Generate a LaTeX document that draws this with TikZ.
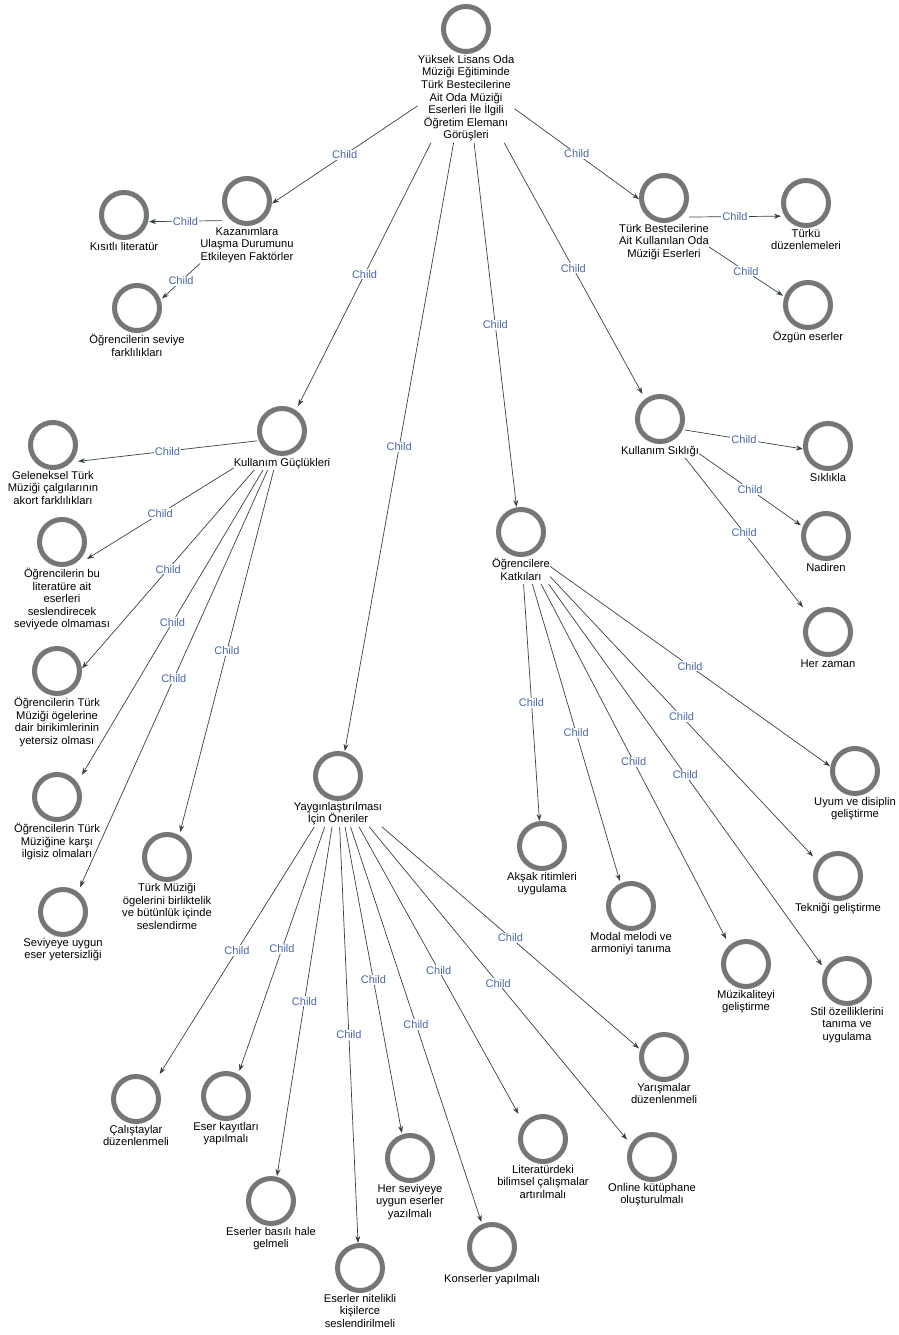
\documentclass[tikz,border=0pt]{standalone}
\usepackage{fontspec}
\setmainfont{Liberation Sans}
\usetikzlibrary{arrows.meta,fit,intersections}
\definecolor{ringgray}{RGB}{118,118,118}
\definecolor{edgecol}{RGB}{55,68,68}
\definecolor{lblcol}{RGB}{75,105,165}
% element: circle + caption + enclosing box
\newcommand\elem[4]{%
  \node[ring] (#1-c) at (#2,#3) {};
  \node[txt] (#1-t) at (#2,#3+26) {#4};
  \node[fit=(#1-c)(#1-t), inner sep=0pt, outer sep=0pt] (#1) {};
}
% connector: leaves the given source rectangle, ends on the child's circle square,
% aimed from the parent box centre to the child box centre
\newcommand\linkgen[4]{%
  \path[name path=lnk] (#3.center) -- (#4.center);
  \path[name path=src] (#1) rectangle (#2);
  \path[name path=dst] (#4-c.west |- #4-c.north) rectangle (#4-c.east |- #4-c.south);
  \path[name intersections={of=lnk and src, by={#3-#4-s}}];
  \path[name intersections={of=lnk and dst, sort by=lnk, by={#3-#4-e}}];
  \draw[edge] (#3-#4-s) -- (#3-#4-e) node[lbl]{Child};
}
\newcommand\link[2]{\linkgen{#1.north west}{#1.south east}{#1}{#2}}
\newcommand\linkc[2]{\linkgen{#1-c.west |- #1-c.north}{#1-c.east |- #1-c.south}{#1}{#2}}
\begin{document}
\begin{tikzpicture}[x=1pt,y=-1pt,
  ring/.style={circle, draw=ringgray, line width=5pt, minimum size=45pt, inner sep=0pt},
  txt/.style={font=\fontsize{11.2}{12.6}\selectfont, align=center, inner sep=0pt, anchor=north, execute at begin node=\strut},
  edge/.style={draw=edgecol, line width=0.7pt, -{Stealth[length=7pt,width=5pt]}},
  lbl/.style={midway, fill=white, inner sep=1pt, text=lblcol, font=\fontsize{11}{12}\selectfont}]
\useasboundingbox[fill=white] (0,0) rectangle (898,1335);

\elem{root}{466}{29}{Yüksek Lisans Oda\\Müziği Eğitiminde\\Türk Bestecilerine\\Ait Oda Müziği\\Eserleri İle İlgili\\Öğretim Elemanı\\Görüşleri}
\elem{A}{247}{201}{Kazanımlara\\Ulaşma Durumunu\\Etkileyen Faktörler}
\elem{B}{124}{215}{Kısıtlı literatür}
\elem{C}{137}{308}{Öğrencilerin seviye\\farklılıkları}
\elem{D}{664}{198}{Türk Bestecilerine\\Ait Kullanılan Oda\\Müziği Eserleri}
\elem{E}{806}{203}{Türkü\\düzenlemeleri}
\elem{F}{808}{305}{Özgün eserler}
\elem{KG}{282}{431}{Kullanım Güçlükleri}
\elem{La}{53}{445}{Geleneksel Türk\\Müziği çalgılarının\\akort farklılıkları}
\elem{Lb}{62}{542}{Öğrencilerin bu\\literatüre ait\\eserleri\\seslendirecek\\seviyede olmaması}
\elem{Lc}{57}{671}{Öğrencilerin Türk\\Müziği ögelerine\\dair birikimlerinin\\yetersiz olması}
\elem{Ld}{57}{797}{Öğrencilerin Türk\\Müziğine karşı\\ilgisiz olmaları}
\elem{Le}{63}{912}{Seviyeye uygun\\eser yetersizliği}
\elem{Lf}{167}{857}{Türk Müziği\\ögelerini birliktelik\\ve bütünlük içinde\\seslendirme}
\elem{G}{660}{419}{Kullanım Sıklığı}
\elem{H}{828}{446}{Sıklıkla}
\elem{I}{826}{536}{Nadiren}
\elem{J}{828}{632}{Her zaman}
\elem{OK}{521}{532}{Öğrencilere\\Katkıları}
\elem{Ak}{542}{846}{Akşak ritimleri\\uygulama}
\elem{Mo}{631}{906}{Modal melodi ve\\armoniyi tanıma}
\elem{Mu}{746}{964}{Müzikaliteyi\\geliştirme}
\elem{St}{847}{981}{Stil özelliklerini\\tanıma ve\\uygulama}
\elem{Te}{838}{876}{Tekniği geliştirme}
\elem{Uy}{855}{771}{Uyum ve disiplin\\geliştirme}
\elem{Y}{338}{776}{Yaygınlaştırılması\\İçin Öneriler}
\elem{Ca}{136}{1099}{Çalıştaylar\\düzenlenmeli}
\elem{Ek}{226}{1096}{Eser kayıtları\\yapılmalı}
\elem{Eb}{271}{1201}{Eserler basılı hale\\gelmeli}
\elem{En}{360}{1268}{Eserler nitelikli\\kişilerce\\seslendirilmeli}
\elem{Hs}{410}{1158}{Her seviyeye\\uygun eserler\\yazılmalı}
\elem{Ko}{492}{1247}{Konserler yapılmalı}
\elem{Li}{543}{1139}{Literatürdeki\\bilimsel çalışmalar\\artırılmalı}
\elem{On}{652}{1157}{Online kütüphane\\oluşturulmalı}
\elem{Ya}{664}{1057}{Yarışmalar\\düzenlenmeli}

\link{root}{A}
\link{root}{D}
\link{root}{KG}
\link{root}{Y}
\link{root}{OK}
\link{root}{G}
\linkc{A}{B}
\link{A}{C}
\linkc{D}{E}
\link{D}{F}
\linkc{KG}{La}
\link{KG}{Lb}
\link{KG}{Lc}
\link{KG}{Ld}
\link{KG}{Le}
\link{KG}{Lf}
\linkc{G}{H}
\link{G}{I}
\link{G}{J}
\link{OK}{Ak}
\link{OK}{Mo}
\link{OK}{Mu}
\link{OK}{St}
\link{OK}{Te}
\link{OK}{Uy}
\link{Y}{Ca}
\link{Y}{Ek}
\link{Y}{Eb}
\link{Y}{En}
\link{Y}{Hs}
\link{Y}{Ko}
\link{Y}{Li}
\link{Y}{On}
\link{Y}{Ya}
\end{tikzpicture}
\end{document}
